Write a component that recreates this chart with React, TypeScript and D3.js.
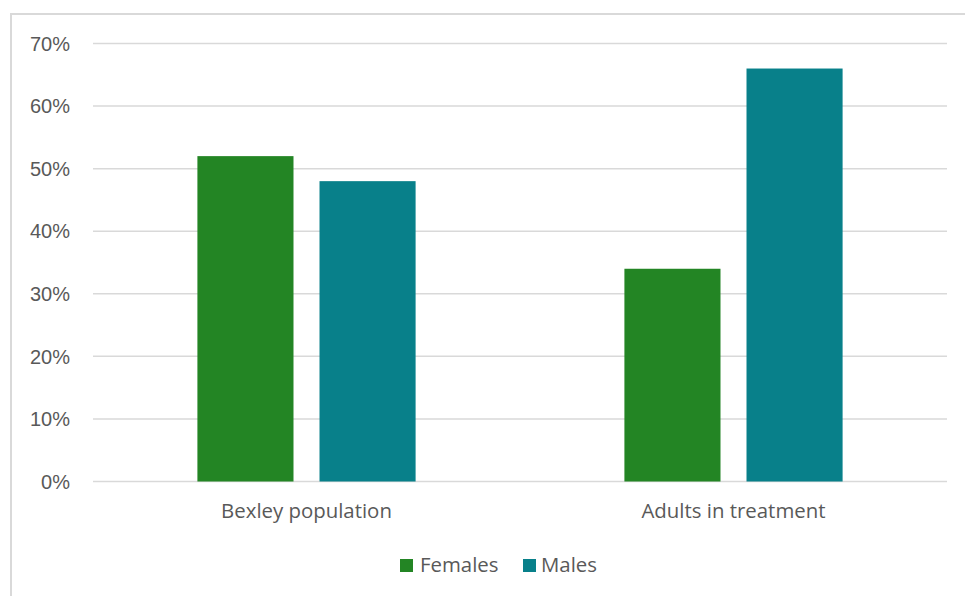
import React from "react";
import * as d3 from "d3";

const categories = ["Bexley population", "Adults in treatment"];
const seriesNames = ["Females", "Males"];
const females = [0.52, 0.34];
const males = [0.48, 0.66];
const yTicks = [0, 0.1, 0.2, 0.3, 0.4, 0.5, 0.6, 0.7];
const colors = ["#238524", "#08808A"];

const W = 965;
const H = 596;
const plot = { left: 93, right: 947, top: 43.5, bottom: 481.5 };
const labelFont = "Open Sans, sans-serif";

export default function App() {
  const x0 = d3
    .scaleBand<string>()
    .domain(categories)
    .range([plot.left, plot.right])
    .paddingInner(0.489)
    .paddingOuter(0.2445);
  const x1 = d3
    .scaleBand<string>()
    .domain(seriesNames)
    .range([0, x0.bandwidth()])
    .paddingInner(0.213)
    .paddingOuter(0);
  const y = d3.scaleLinear().domain([0, 0.7]).range([plot.bottom, plot.top]);
  const fmt = d3.format(".0%");
  const values = [females, males];

  return (
    <svg
      width={W}
      height={H}
      style={{ position: "absolute", left: 0, top: 0, background: "#fff" }}
    >
      <rect x={11} y={14} width={W + 10} height={H + 10} fill="#fff" stroke="#d9d9d9" strokeWidth={2} />
      {yTicks.map((t) => (
        <g key={t}>
          <line x1={plot.left} x2={plot.right} y1={y(t)} y2={y(t)} stroke="#d9d9d9" strokeWidth={1.5} />
          <text
            x={70}
            y={y(t)}
            dy="0.36em"
            textAnchor="end"
            fontFamily="Liberation Sans, Arial, sans-serif"
            fontSize={20}
            fill="#595959"
          >
            {fmt(t)}
          </text>
        </g>
      ))}
      {categories.map((c, i) => (
        <g key={c} transform={`translate(${x0(c)},0)`}>
          {seriesNames.map((s, j) => (
            <rect
              key={s}
              x={x1(s)}
              y={y(values[j][i])}
              width={x1.bandwidth()}
              height={y(0) - y(values[j][i])}
              fill={colors[j]}
            />
          ))}
          <text
            x={x0.bandwidth() / 2}
            y={518}
            textAnchor="middle"
            fontFamily={labelFont}
            fontSize={20.4}
            fill="#595959"
          >
            {c}
          </text>
        </g>
      ))}
      <g>
        <rect x={400} y={559} width={13} height={13} fill={colors[0]} />
        <text x={420} y={572} fontFamily={labelFont} fontSize={20.4} fill="#595959">
          {seriesNames[0]}
        </text>
        <rect x={523} y={559} width={13} height={13} fill={colors[1]} />
        <text x={541} y={572} fontFamily={labelFont} fontSize={20.4} fill="#595959">
          {seriesNames[1]}
        </text>
      </g>
    </svg>
  );
}
